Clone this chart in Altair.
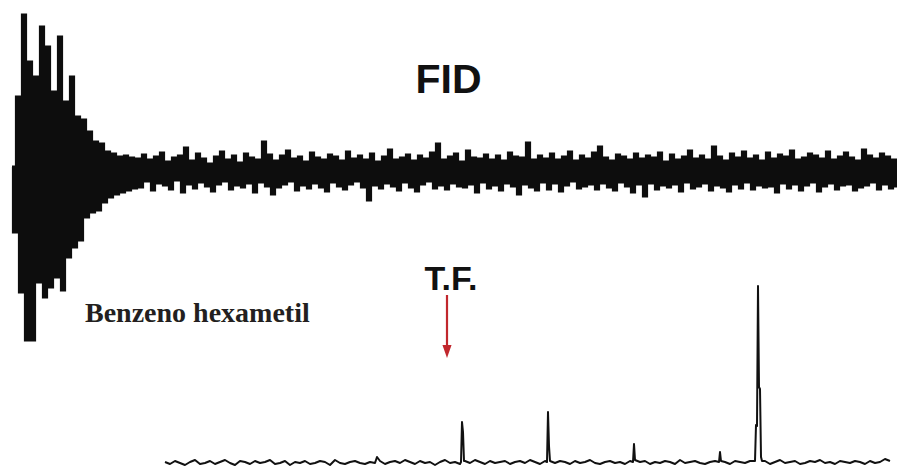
import altair as alt
import pandas as pd

# --- FID: free induction decay, sampled on a uniform time grid ---
fid_t0 = 12
fid_dwell = 3
fid_amp = [
    5, -60, 75, -120, 157, -168, 110, -168, 95, -110,
    145, -125, 125, -115, 80, -105, 135, -118, 70, -85,
    95, -75, 55, -68, 52, -45, 40, -40, 30, -38,
    28, -30, 20, -25, 18, -22, 15, -20, 16, -18,
    14, -16, 13, -15, 17, -9, 12, -18, 15, -11,
    19, -13, 10, -17, 14, -8, 16, -20, 24, -12,
    11, -16, 18, -10, 13, -14, 8, -19, 15, -12,
    20, -9, 12, -17, 16, -13, 9, -15, 18, -11,
    14, -20, 12, -10, 30, -14, 17, -22, 11, -15,
    16, -12, 21, -9, 13, -18, 15, -13, 10, -16,
    19, -11, 14, -15, 12, -19, 17, -10, 15, -14,
    11, -17, 20, -12, 13, -9, 16, -15, 12, -28,
    18, -13, 10, -16, 15, -11, 22, -14, 12, -18,
    14, -10, 17, -15, 11, -19, 16, -12, 13, -9,
    19, -16, 28, -13, 12, -17, 15, -11, 18, -14,
    10, -15, 21, -12, 14, -20, 13, -10, 17, -16,
    12, -13, 16, -18, 11, -11, 19, -14, 15, -22,
    14, -12, 29, -15, 12, -18, 16, -10, 13, -17,
    18, -11, 12, -19, 15, -13, 20, -9, 11, -16,
    16, -14, 13, -12, 19, -17, 25, -11, 14, -15,
    11, -18, 17, -10, 15, -14, 12, -20, 18, -12,
    13, -24, 16, -11, 14, -17, 19, -13, 10, -15,
    17, -12, 12, -19, 15, -10, 21, -16, 13, -14,
    16, -11, 12, -18, 25, -13, 15, -15, 11, -19,
    18, -12, 14, -16, 20, -10, 13, -17, 16, -13,
    11, -15, 19, -14, 13, -20, 17, -11, 15, -16,
    21, -12, 12, -18, 14, -13, 18, -10, 16, -19,
    13, -14, 20, -11, 12, -17, 15, -13, 19, -12,
    14, -18, 11, -15, 22, -13, 16, -10, 13, -17,
    18, -12, 15, -16, 12, -14,
]

# --- Spectrum after the Fourier transform ---
spec_start = 165
spec_step = 5
spec_base = [
    1, -1, 2, 0, -2, 1, 3, -1, 0, 2,
    -1, 1, 3, 0, -2, 2, 1, -1, 2, 0,
    1, 3, -1, 0, 2, -2, 1, 0, 2, -1,
    0, 2, 1, -2, 3, 0, -1, 1, 2, 0,
    -1, 1, 0, 2, -1, 1, 2, 0, 3, 1,
    -1, 2, 0, 1, -2, 1, 3, 0, 1, -1,
    2, 0, 3, 1, -1, 2, 0, 1, 2, -1,
    1, 2, 0, 3, 1, -1, 2, 1, 0, 2,
    1, -1, 2, 0, 1, 3, 0, -1, 1, 2,
    0, 1, -1, 2, 0, 1, 2, -1, 1, 0,
    2, 1, -1, 3, 0, 1, 2, 0, -1, 1,
    2, 0, 1, -1, 2, 1, 0, 2, 0, 1,
    2, -1, 1, 3, 0, 1, 2, -1, 0, 2,
    1, 3, 0, 1, -1, 2, 1, 0, 2, 1,
    -1, 2, 0, 1, 4, 2,
]
peak_freq = [377,
             461, 462, 463, 464,
             547, 548, 549, 550,
             633, 634, 635,
             719, 720, 721,
             755, 756, 757, 758, 759, 760, 761, 762]
peak_int = [6,
            1, 41, 31, 2,
            1, 51, 17, 2,
            1, 19, 3,
            1, 11, 2,
            2, 38, 37, 177, 76, 74, 6, 2]

# Annotation anchors (spectrum units)
arrow_freq = [447]
arrow_top = [168]
arrow_bottom = [115]
arrow_head = [111.5]

fid = pd.DataFrame({
    "t": [fid_t0 + fid_dwell * i for i in range(len(fid_amp))],
    "amp": fid_amp,
})

base_freq = [spec_start + spec_step * k for k in range(len(spec_base))]
rows = [(f, v) for f, v in zip(base_freq, spec_base) if f not in peak_freq]
rows += list(zip(peak_freq, peak_int))
rows.sort()
spec = pd.DataFrame(rows, columns=["freq", "inten"])

W, H = 897, 472
X_DOM = [0, 897]
FID_DOM = [-300, 172]
SPEC_DOM = [-9, 463]

fid_x = alt.X("t:Q", scale=alt.Scale(domain=X_DOM), axis=None)
fid_y = alt.Y("amp:Q", scale=alt.Scale(domain=FID_DOM), axis=None)
sp_x = alt.X("freq:Q", scale=alt.Scale(domain=X_DOM), axis=None)
sp_y = alt.Y("inten:Q", scale=alt.Scale(domain=SPEC_DOM), axis=None)

# stepped trace with a stroke as wide as one dwell step: the vertical
# risers between samples merge into the dense, blocky band of a plotter FID
fid_line = alt.Chart(fid).mark_line(
    color="#0d0d0d", strokeWidth=3.2, strokeJoin="miter", interpolate="step"
).encode(x=fid_x, y=fid_y, order="t:Q")

spec_line = alt.Chart(spec).mark_line(
    color="#111111", strokeWidth=2.0, strokeJoin="round", interpolate="linear"
).encode(x=sp_x, y=sp_y, order="freq:Q")

fid_label = alt.Chart(pd.DataFrame({"t": [448.5], "amp": [79], "s": ["FID"]})).mark_text(
    font="Liberation Sans", fontWeight="bold", fontSize=41, color="#111111",
    align="center", baseline="alphabetic"
).encode(x=fid_x, y=fid_y, text="s:N")

tf_label = alt.Chart(pd.DataFrame({"freq": [451], "inten": [173], "s": ["T.F."]})).mark_text(
    font="Liberation Sans Narrow, Liberation Sans", fontWeight="bold", fontSize=34,
    color="#111111", align="center", baseline="alphabetic"
).encode(x=sp_x, y=sp_y, text="s:N")

sample_label = alt.Chart(pd.DataFrame({"freq": [85], "inten": [141], "s": ["Benzeno hexametil"]})).mark_text(
    font="Liberation Serif", fontWeight="bold", fontSize=28, color="#231f20",
    align="left", baseline="alphabetic"
).encode(x=sp_x, y=sp_y, text="s:N")

arrow_df = pd.DataFrame({"freq": arrow_freq, "inten": arrow_top,
                         "inten2": arrow_bottom, "head": arrow_head})
arrow_shaft = alt.Chart(arrow_df).mark_rule(color="#c1272d", strokeWidth=2.2).encode(
    x=sp_x, y=sp_y, y2="inten2:Q"
)
arrow_tip = alt.Chart(arrow_df).mark_point(
    shape="M-0.7,-1L0.7,-1L0,1Z", size=169, filled=True, color="#c1272d", opacity=1
).encode(x=sp_x, y=alt.Y("head:Q", scale=alt.Scale(domain=SPEC_DOM), axis=None))

chart = alt.layer(
    fid_line, spec_line, fid_label, tf_label, sample_label, arrow_shaft, arrow_tip
).resolve_scale(x="independent", y="independent").properties(
    width=W, height=H, padding=0, autosize=alt.AutoSizeParams(type="none"),
    background="white"
).configure_view(stroke=None)

chart.save("out.html", embed_options={"renderer": "svg", "actions": False})
